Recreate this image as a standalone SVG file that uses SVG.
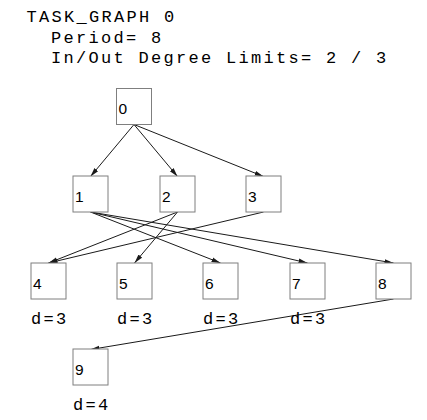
<svg xmlns="http://www.w3.org/2000/svg" width="427" height="420" viewBox="0 0 427 420">
<style>
.box{fill:#fff;stroke:#7f7f7f;stroke-width:1}
.lbl{font-family:"Liberation Sans",Arial,sans-serif;font-size:15.5px;fill:#000}
.mono{font-family:"Liberation Mono","Courier New",monospace;font-size:17px;letter-spacing:2.3px;fill:#000}
.edge{stroke:#1a1a1a;stroke-width:1;fill:none;marker-end:url(#arr)}
</style>
<defs>
<marker id="arr" markerUnits="userSpaceOnUse" markerWidth="10" markerHeight="6" refX="9" refY="3" orient="auto">
<path d="M0,0.6 L9,3 L0,5.4 Z" fill="#1a1a1a"/>
</marker>
</defs>
<rect width="427" height="420" fill="#fff"/>
<g id="header">
<text class="mono" x="26.5" y="21.7">TASK_GRAPH 0</text>
<text class="mono" x="51" y="42.5">Period= 8</text>
<text class="mono" x="51" y="63.3">In/Out Degree Limits= 2 / 3</text>
</g>
<g id="connectors">
<line class="edge" x1="134" y1="124.5" x2="90.5" y2="176.5"/>
<line class="edge" x1="134" y1="124.5" x2="177.5" y2="176.5"/>
<line class="edge" x1="134" y1="124.5" x2="263.5" y2="176.5"/>
<line class="edge" x1="90.5" y1="212" x2="220.5" y2="263"/>
<line class="edge" x1="90.5" y1="212" x2="307.5" y2="263"/>
<line class="edge" x1="90.5" y1="212" x2="393.5" y2="263"/>
<line class="edge" x1="177.5" y1="212" x2="48.5" y2="263"/>
<line class="edge" x1="177.5" y1="212" x2="134.5" y2="263"/>
<line class="edge" x1="263.5" y1="212" x2="48.5" y2="263"/>
<line class="edge" x1="393.5" y1="299" x2="90.5" y2="349.5"/>
</g>
<g id="n0"><rect class="box" x="116.5" y="88.5" width="35" height="36"/><text class="lbl" x="118.5" y="114">0</text></g>
<g id="n1"><rect class="box" x="73" y="176" width="35" height="36"/><text class="lbl" x="75" y="202">1</text></g>
<g id="n2"><rect class="box" x="160" y="176" width="35" height="36"/><text class="lbl" x="162" y="202">2</text></g>
<g id="n3"><rect class="box" x="246" y="176" width="35" height="36"/><text class="lbl" x="248" y="202">3</text></g>
<g id="n4"><rect class="box" x="31" y="263" width="35" height="36"/><text class="lbl" x="33" y="289">4</text><text class="mono" x="31" y="324">d=3</text></g>
<g id="n5"><rect class="box" x="117" y="263" width="35" height="36"/><text class="lbl" x="119" y="289">5</text><text class="mono" x="117" y="324">d=3</text></g>
<g id="n6"><rect class="box" x="203" y="263" width="35" height="36"/><text class="lbl" x="205" y="289">6</text><text class="mono" x="203" y="324">d=3</text></g>
<g id="n7"><rect class="box" x="290" y="263" width="35" height="36"/><text class="lbl" x="292" y="289">7</text><text class="mono" x="290" y="324">d=3</text></g>
<g id="n8"><rect class="box" x="376" y="263" width="35" height="36"/><text class="lbl" x="378" y="289">8</text></g>
<g id="n9"><rect class="box" x="73" y="349" width="35" height="36"/><text class="lbl" x="75" y="375">9</text><text class="mono" x="73" y="410">d=4</text></g>
</svg>
